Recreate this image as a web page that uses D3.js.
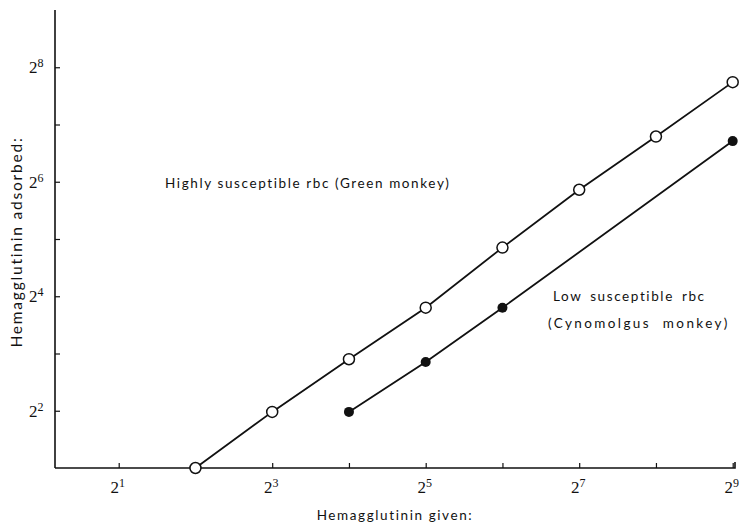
<!DOCTYPE html>
<html><head>
<script src="https://d3js.org/d3.v7.min.js"></script>
<style>
body { margin: 0; background: #fff; }
.lbl { font-family: Lato, "DejaVu Sans", sans-serif; font-size: 13.5px; letter-spacing: 1.6px; fill: #111; }
.tk { font-family: "Liberation Serif", serif; font-size: 17px; fill: #111; }
</style>
</head><body>
<svg id="chart" width="745" height="528"></svg>
<script>
// exponents (log2)
var greenX = [2, 3, 4, 5, 6, 7, 8, 9];
var greenY = [1.0, 1.98, 2.9, 3.8, 4.85, 5.86, 6.79, 7.74];
var cynoX = [4, 5, 6, 9];
var cynoY = [1.98, 2.85, 3.8, 6.71];
var xTicks = [1, 2, 3, 4, 5, 6, 7, 8, 9];
var xLabels = [1, 3, 5, 7, 9];
var yTicks = [2, 3, 4, 5, 6, 7, 8];
var yLabels = [2, 4, 6, 8];

var svg = d3.select("#chart");

var x = d3.scaleLinear().domain([0.17, 9.03]).range([55, 735]);
var y = d3.scaleLinear().domain([1, 9]).range([468, 10]);

// axes, ticks pointing inward
var xAxis = svg.append("g")
    .attr("transform", "translate(0," + y(1) + ")")
    .call(d3.axisBottom(x).tickValues(xTicks).tickSize(-5).tickFormat(""));
var yAxis = svg.append("g")
    .attr("transform", "translate(" + x(0.17) + ",0)")
    .call(d3.axisLeft(y).tickValues(yTicks).tickSize(-5).tickFormat(""));
svg.selectAll(".domain").attr("stroke", "#111").attr("stroke-width", 1.6);
xAxis.select(".domain").attr("d", "M" + x(0.17) + ",0H" + x(9.03) + "V-6");
yAxis.select(".domain").attr("d", "M0," + y(1) + "V" + y(9));
svg.selectAll(".tick line").attr("stroke", "#111").attr("stroke-width", 1.2);

// tick labels 2^n
xLabels.forEach(function(n) {
  var t = svg.append("text").attr("class", "tk")
      .attr("x", x(n) - 1).attr("y", y(1) + 25).attr("text-anchor", "middle");
  t.append("tspan").text("2");
  t.append("tspan").attr("dy", -6).attr("font-size", 12).text(n);
});
yLabels.forEach(function(n) {
  var t = svg.append("text").attr("class", "tk")
      .attr("x", 29).attr("y", y(n) + 6);
  t.append("tspan").text("2");
  t.append("tspan").attr("dy", -6).attr("font-size", 12).text(n);
});

// lines
var line = d3.line().x(function(d) { return x(d[0]); }).y(function(d) { return y(d[1]); });
var green = d3.zip(greenX, greenY);
var cyno = d3.zip(cynoX, cynoY);
svg.append("path").datum(green).attr("d", line)
    .attr("fill", "none").attr("stroke", "#111").attr("stroke-width", 1.8);
svg.append("path").datum(cyno).attr("d", line)
    .attr("fill", "none").attr("stroke", "#111").attr("stroke-width", 1.8);

svg.selectAll(".open").data(green).enter().append("circle")
    .attr("cx", function(d) { return x(d[0]); })
    .attr("cy", function(d) { return y(d[1]); })
    .attr("r", 5.5).attr("fill", "#fff").attr("stroke", "#111").attr("stroke-width", 1.5);
svg.selectAll(".filled").data(cyno).enter().append("circle")
    .attr("cx", function(d) { return x(d[0]); })
    .attr("cy", function(d) { return y(d[1]); })
    .attr("r", 5).attr("fill", "#111");

// annotations
svg.append("text").attr("class", "lbl").attr("x", 165).attr("y", 188)
    .text("Highly susceptible rbc (Green monkey)");
svg.append("text").attr("class", "lbl").attr("x", 553).attr("y", 301)
    .style("word-spacing", "3px").text("Low susceptible rbc");
svg.append("text").attr("class", "lbl").attr("x", 548).attr("y", 328)
    .style("letter-spacing", "2.4px").style("word-spacing", "6px")
    .text("(Cynomolgus monkey)");

// axis titles
svg.append("text").attr("class", "lbl").attr("text-anchor", "middle")
    .attr("x", 395).attr("y", 520).text("Hemagglutinin given:");
svg.append("text").attr("class", "lbl").attr("text-anchor", "middle")
    .style("font-size", "15.5px").style("letter-spacing", "1.8px")
    .attr("transform", "translate(22,242) rotate(-90)").text("Hemagglutinin adsorbed:");
</script>
</body></html>
